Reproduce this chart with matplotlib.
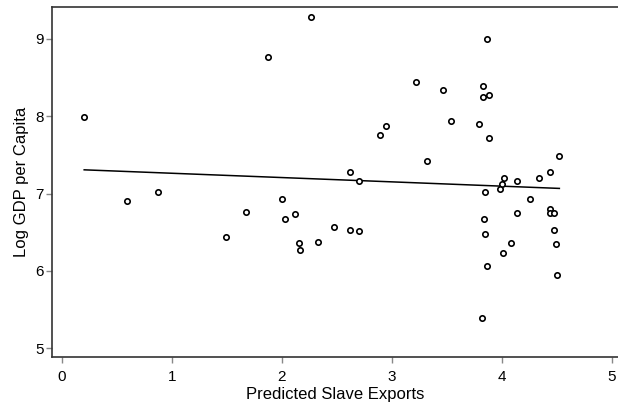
import numpy as np
import matplotlib
matplotlib.use("Agg")
from matplotlib import pyplot as plt

# predicted slave exports and log GDP per capita, one pair per country
slave_exports = [
    0.205, 0.594, 0.878, 1.496, 1.675, 1.878, 2.005, 2.033, 2.118, 2.160,
    2.169, 2.266, 2.330, 2.479, 2.621, 2.621, 2.703, 2.703, 2.894, 2.948,
    3.221, 3.320, 3.469, 3.536, 3.796, 3.830, 3.833, 3.885, 3.869, 3.887,
    4.524, 4.436, 4.339, 4.024, 4.142, 4.000, 3.988, 3.849, 4.257, 4.442,
    4.436, 4.478, 4.142, 3.836, 4.473, 3.849, 4.088, 4.497, 4.009, 3.866,
    4.503, 3.824,
]
log_gdp = [
    7.990, 6.907, 7.015, 6.442, 6.765, 8.764, 6.933, 6.674, 6.731, 6.365,
    6.270, 9.284, 6.377, 6.567, 7.274, 6.528, 7.162, 6.511, 7.756, 7.870,
    8.440, 7.415, 8.337, 7.940, 7.894, 8.385, 8.247, 8.273, 8.992, 7.713,
    7.488, 7.274, 7.196, 7.196, 7.162, 7.119, 7.058, 7.023, 6.929, 6.804,
    6.744, 6.748, 6.752, 6.674, 6.528, 6.477, 6.360, 6.351, 6.227, 6.059,
    5.943, 5.391,
]

# fitted line: intercept and slope
fit_intercept = 7.318
fit_slope = -0.0556

x_ticks = [0, 1, 2, 3, 4, 5]
y_ticks = [5, 6, 7, 8, 9]

plt.rcParams["font.family"] = ["Liberation Sans", "DejaVu Sans"]

fig = plt.figure(figsize=(6.18, 4.05), dpi=100)
ax = fig.add_axes([0.0846, 0.1178, 0.9154, 0.864])

ax.scatter(slave_exports, log_gdp, s=15, facecolors="white",
           edgecolors="black", linewidths=1.2, zorder=3)

x_fit = np.array([min(slave_exports), max(slave_exports)])
ax.plot(x_fit, fit_intercept + fit_slope * x_fit, color="black", lw=1.1, zorder=2)

ax.set_xlim(-0.085, 5.057)
ax.set_ylim(4.884, 9.406)
ax.set_xticks(x_ticks)
ax.set_yticks(y_ticks)

for side in ["left", "bottom", "top"]:
    ax.spines[side].set_color("#333333")
    ax.spines[side].set_linewidth(1.2)
ax.spines["right"].set_visible(False)

ax.tick_params(axis="both", length=4, width=1, color="#888888",
               labelsize=11, labelcolor="black")
ax.tick_params(axis="x", pad=5)
ax.tick_params(axis="y", pad=2)

ax.set_xlabel("Predicted Slave Exports", fontsize=12, labelpad=2)
ax.set_ylabel("Log GDP per Capita", fontsize=12, labelpad=5)

fig.savefig("out.png", dpi=100)
